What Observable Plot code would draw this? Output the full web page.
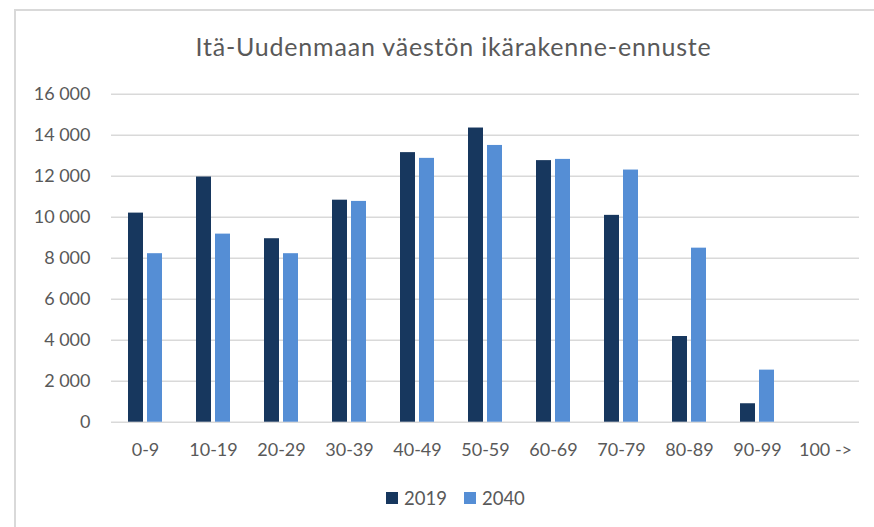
<!DOCTYPE html>
<html>
<head>
<meta charset="utf-8">
<script src="https://cdn.jsdelivr.net/npm/d3@7"></script>
<script src="https://cdn.jsdelivr.net/npm/@observablehq/plot@0.6"></script>
<style>
  html, body { margin: 0; padding: 0; background: #fff; }
  #wrap { position: relative; width: 874px; height: 527px; overflow: hidden; font-family: Lato, sans-serif; color: #595959; }
  #frame { position: absolute; left: 14px; top: 9px; width: 900px; height: 600px; border-top: 2px solid #d9d9d9; border-left: 2px solid #d9d9d9; box-sizing: border-box; }
  #title { position: absolute; left: 0; width: 907px; top: 33.5px; text-align: center; font-size: 25px; line-height: 25px; letter-spacing: 0.8px; white-space: nowrap; }
  #chart { position: absolute; left: 0; top: 0; }
  #legend { position: absolute; left: 386px; top: 488.5px; display: flex; align-items: center; font-size: 18.5px; line-height: 18px; }
  .sw { width: 12px; height: 12px; display: inline-block; margin-right: 6px; }
  .item { display: flex; align-items: center; margin-right: 17px; }
</style>
</head>
<body>
<div id="wrap">
  <div id="frame"></div>
  <div id="title"></div>
  <div id="chart"></div>
  <div id="legend"></div>
</div>
<script>
const titleText = "Itä-Uudenmaan väestön ikärakenne-ennuste";
const categories = ["0-9", "10-19", "20-29", "30-39", "40-49", "50-59", "60-69", "70-79", "80-89", "90-99", "100 ->"];
const years = ["2019", "2040"];
const values2019 = [10200, 11960, 8950, 10830, 13150, 14350, 12760, 10090, 4180, 900, 0];
const values2040 = [8220, 9175, 8220, 10770, 12870, 13500, 12820, 12300, 8490, 2540, 0];
const yTicks = [0, 2000, 4000, 6000, 8000, 10000, 12000, 14000, 16000];
const colors = ["#17375E", "#558ED5"];

const rows = categories.flatMap((c, i) => [
  {cat: c, year: years[0], value: values2019[i]},
  {cat: c, year: years[1], value: values2040[i]}
]);

document.getElementById("title").textContent = titleText;

const fmt = d => d3.format(",")(d).replace(/,/g, " ");

const chart = Plot.plot({
  width: 874,
  height: 470,
  marginTop: 93.7,
  marginBottom: 48.3,
  marginLeft: 111,
  marginRight: 15,
  style: {fontFamily: "Lato, sans-serif", fontSize: "18px", color: "#595959", background: "transparent"},
  facet: {marginTop: 0, marginRight: 0, marginBottom: 0, marginLeft: 0},
  fx: {domain: categories, paddingInner: 0, paddingOuter: 0, label: null, tickSize: 0, tickPadding: 21, axis: "bottom"},
  x: {domain: years, type: "band", paddingInner: 0.235, paddingOuter: 0.85, axis: null},
  y: {domain: [0, 16000], ticks: yTicks, tickFormat: fmt, tickSize: 0, tickPadding: 21, label: null},
  color: {domain: years, range: colors},
  marks: [
    Plot.gridY(yTicks, {stroke: "#d9d9d9", strokeOpacity: 1, strokeWidth: 1.4}),
    Plot.barY(rows, {fx: "cat", x: "year", y: "value", fill: "year"})
  ]
});
document.getElementById("chart").appendChild(chart);

const legend = document.getElementById("legend");
years.forEach((y, i) => {
  const it = document.createElement("div");
  it.className = "item";
  const sw = document.createElement("span");
  sw.className = "sw";
  sw.style.background = colors[i];
  const t = document.createElement("span");
  t.textContent = y;
  it.appendChild(sw);
  it.appendChild(t);
  legend.appendChild(it);
});
</script>
</body>
</html>
